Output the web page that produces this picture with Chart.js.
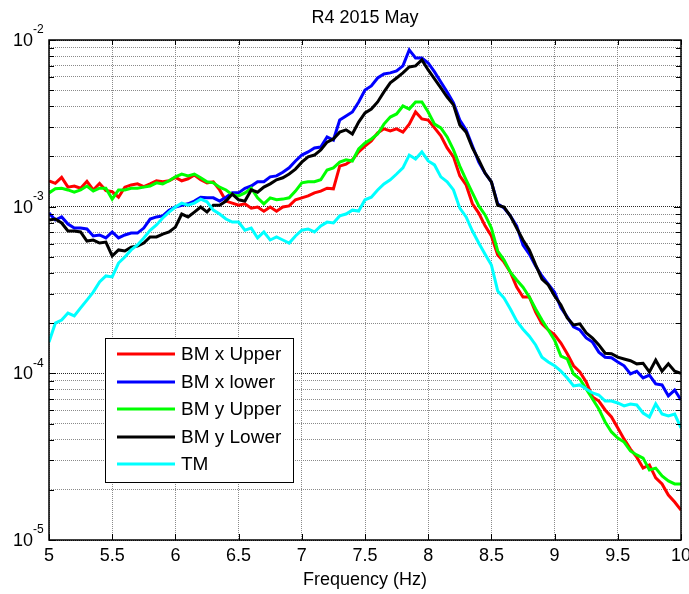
<!DOCTYPE html>
<html><head><meta charset="utf-8">
<script src="https://cdn.jsdelivr.net/npm/chart.js@4.4.1/dist/chart.umd.min.js"></script>
<style>html,body{margin:0;padding:0;background:#fff;}#wrap{width:689px;height:594px;position:relative;}</style>
</head><body><div id="wrap"><canvas id="c" width="689" height="594"></canvas></div>
<script>
const FONT = "'Liberation Sans', Arial, Helvetica, sans-serif";
const titleText = 'R4 2015 May';
const xLabel = 'Frequency (Hz)';
const xTicks = [5, 5.5, 6, 6.5, 7, 7.5, 8, 8.5, 9, 9.5, 10];
const yDecades = [1e-5, 1e-4, 1e-3, 1e-2];
const yDecadeExp = ['-5', '-4', '-3', '-2'];
const seriesNames = ['BM x Upper', 'BM x lower', 'BM y Upper', 'BM y Lower', 'TM'];
const seriesColors = ['#ff0000', '#0000ff', '#00ff00', '#000000', '#00ffff'];

const freq = [
 5.00,5.05,5.10,5.15,5.20,5.25,5.30,5.35,5.40,5.45,
 5.50,5.55,5.60,5.65,5.70,5.75,5.80,5.85,5.90,5.95,
 6.00,6.05,6.10,6.15,6.20,6.25,6.30,6.35,6.40,6.45,
 6.50,6.55,6.60,6.65,6.70,6.75,6.80,6.85,6.90,6.95,
 7.00,7.05,7.10,7.15,7.20,7.25,7.30,7.35,7.40,7.45,
 7.50,7.55,7.60,7.65,7.70,7.75,7.80,7.85,7.90,7.95,
 8.00,8.05,8.10,8.15,8.20,8.25,8.30,8.35,8.40,8.45,
 8.50,8.55,8.60,8.65,8.70,8.75,8.80,8.85,8.90,8.95,
 9.00,9.05,9.10,9.15,9.20,9.25,9.30,9.35,9.40,9.45,
 9.50,9.55,9.60,9.65,9.70,9.75,9.80,9.85,9.90,9.95,
 10.00];

const bmxUpper = [
 1.43e-3,1.38e-3,1.50e-3,1.31e-3,1.33e-3,1.29e-3,1.42e-3,1.26e-3,1.38e-3,1.25e-3,
 1.23e-3,1.14e-3,1.31e-3,1.35e-3,1.37e-3,1.32e-3,1.37e-3,1.43e-3,1.41e-3,1.43e-3,
 1.50e-3,1.43e-3,1.47e-3,1.55e-3,1.45e-3,1.39e-3,1.41e-3,1.26e-3,1.08e-3,1.05e-3,
 1.02e-3,1.04e-3,9.8e-4,9.95e-4,9.4e-4,9.95e-4,9.4e-4,9.95e-4,1.01e-3,1.10e-3,
 1.13e-3,1.16e-3,1.21e-3,1.24e-3,1.29e-3,1.28e-3,1.75e-3,1.80e-3,1.91e-3,2.13e-3,
 2.31e-3,2.48e-3,2.77e-3,2.93e-3,2.85e-3,2.93e-3,2.80e-3,3.13e-3,3.70e-3,3.36e-3,
 3.31e-3,2.97e-3,2.66e-3,2.25e-3,1.99e-3,1.53e-3,1.35e-3,1.04e-3,9.15e-4,7.67e-4,
 6.67e-4,5.13e-4,4.65e-4,4.05e-4,3.29e-4,2.87e-4,2.87e-4,2.33e-4,1.98e-4,1.82e-4,
 1.70e-4,1.52e-4,1.31e-4,1.11e-4,1.02e-4,8.88e-5,7.22e-5,6.82e-5,6.03e-5,5.47e-5,
 4.70e-5,4.03e-5,3.51e-5,3.14e-5,2.70e-5,2.82e-5,2.36e-5,2.17e-5,1.86e-5,1.69e-5,
 1.51e-5];

const bmxLower = [
 9.15e-4,8.32e-4,8.68e-4,7.87e-4,7.44e-4,7.44e-4,7.35e-4,6.67e-4,6.76e-4,6.49e-4,
 7.05e-4,6.49e-4,6.76e-4,6.94e-4,6.94e-4,7.44e-4,8.43e-4,8.68e-4,8.80e-4,9.53e-4,
 9.95e-4,1.02e-3,1.04e-3,1.08e-3,1.14e-3,1.13e-3,1.13e-3,1.08e-3,1.14e-3,1.21e-3,
 1.21e-3,1.29e-3,1.33e-3,1.41e-3,1.41e-3,1.51e-3,1.53e-3,1.61e-3,1.71e-3,1.88e-3,
 2.04e-3,2.13e-3,2.25e-3,2.28e-3,2.62e-3,2.51e-3,3.31e-3,3.50e-3,3.70e-3,4.25e-3,
 5.01e-3,5.30e-3,5.92e-3,6.26e-3,6.35e-3,6.52e-3,6.99e-3,8.72e-3,7.80e-3,7.80e-3,
 7.28e-3,6.44e-3,5.60e-3,4.88e-3,4.19e-3,3.31e-3,2.89e-3,2.31e-3,1.85e-3,1.59e-3,
 1.41e-3,1.04e-3,9.8e-4,8.80e-4,7.67e-4,5.89e-4,5.19e-4,4.40e-4,3.84e-4,3.43e-4,
 3.07e-4,2.47e-4,2.18e-4,1.90e-4,1.82e-4,1.63e-4,1.54e-4,1.34e-4,1.25e-4,1.24e-4,
 1.17e-4,1.11e-4,9.91e-5,1.03e-4,9.38e-5,9.77e-5,8.64e-5,8.52e-5,7.32e-5,7.94e-5,
 6.92e-5];

const bmyUpper = [
 1.21e-3,1.28e-3,1.29e-3,1.26e-3,1.22e-3,1.26e-3,1.33e-3,1.24e-3,1.29e-3,1.29e-3,
 1.11e-3,1.26e-3,1.26e-3,1.29e-3,1.29e-3,1.31e-3,1.33e-3,1.39e-3,1.37e-3,1.43e-3,
 1.51e-3,1.57e-3,1.53e-3,1.57e-3,1.49e-3,1.41e-3,1.39e-3,1.31e-3,1.26e-3,1.18e-3,
 1.16e-3,1.21e-3,1.29e-3,1.13e-3,1.04e-3,1.13e-3,1.10e-3,1.11e-3,1.13e-3,1.24e-3,
 1.39e-3,1.41e-3,1.41e-3,1.45e-3,1.66e-3,1.71e-3,1.85e-3,1.91e-3,1.88e-3,2.22e-3,
 2.41e-3,2.55e-3,2.73e-3,3.13e-3,3.45e-3,3.60e-3,4.02e-3,3.85e-3,4.25e-3,4.25e-3,
 3.70e-3,3.13e-3,2.97e-3,2.62e-3,2.19e-3,1.75e-3,1.45e-3,1.21e-3,1.01e-3,8.92e-4,
 7.44e-4,5.42e-4,4.78e-4,4.05e-4,3.63e-4,3.29e-4,2.87e-4,2.43e-4,2.09e-4,1.82e-4,
 1.58e-4,1.27e-4,1.22e-4,9.91e-5,9.24e-5,8.06e-5,7.02e-5,6.11e-5,5.11e-5,4.45e-5,
 4.09e-5,3.87e-5,3.42e-5,3.24e-5,3.10e-5,2.63e-5,2.70e-5,2.42e-5,2.26e-5,2.17e-5,
 2.17e-5];

const bmyLower = [
 8.32e-4,8.43e-4,7.98e-4,7.14e-4,7.14e-4,7.05e-4,6.22e-4,6.30e-4,6.05e-4,6.13e-4,
 5.06e-4,5.50e-4,5.42e-4,5.72e-4,5.80e-4,6.05e-4,6.58e-4,6.58e-4,6.85e-4,7.05e-4,
 7.54e-4,9.03e-4,8.68e-4,9.28e-4,9.95e-4,9.28e-4,1.02e-3,1.02e-3,1.08e-3,1.19e-3,
 1.10e-3,1.08e-3,1.26e-3,1.22e-3,1.31e-3,1.37e-3,1.45e-3,1.49e-3,1.57e-3,1.68e-3,
 1.85e-3,1.99e-3,2.04e-3,2.19e-3,2.44e-3,2.55e-3,2.80e-3,2.89e-3,2.73e-3,3.22e-3,
 3.65e-3,3.85e-3,4.25e-3,4.88e-3,5.53e-3,5.92e-3,6.35e-3,6.89e-3,6.99e-3,7.59e-3,
 6.61e-3,5.84e-3,5.16e-3,4.55e-3,4.08e-3,3.09e-3,2.80e-3,2.25e-3,1.91e-3,1.59e-3,
 1.41e-3,1.02e-3,9.95e-4,8.80e-4,7.44e-4,6.31e-4,5.50e-4,4.47e-4,3.68e-4,3.39e-4,
 2.91e-4,2.57e-4,2.15e-4,1.95e-4,1.98e-4,1.75e-4,1.63e-4,1.48e-4,1.32e-4,1.31e-4,
 1.25e-4,1.22e-4,1.19e-4,1.14e-4,1.15e-4,1.02e-4,1.20e-4,1.03e-4,1.14e-4,1.03e-4,
 1.00e-4];

const tm = [
 1.54e-4,2.00e-4,2.09e-4,2.30e-4,2.21e-4,2.47e-4,2.75e-4,3.07e-4,3.53e-4,3.84e-4,
 3.79e-4,4.59e-4,4.99e-4,5.50e-4,5.89e-4,6.49e-4,7.22e-4,7.76e-4,8.55e-4,9.28e-4,
 9.95e-4,1.05e-3,1.02e-3,1.05e-3,1.11e-3,1.07e-3,9.53e-4,9.03e-4,8.43e-4,8.08e-4,
 8.08e-4,7.22e-4,7.44e-4,6.49e-4,7.05e-4,6.31e-4,6.58e-4,6.31e-4,6.05e-4,6.67e-4,
 7.22e-4,7.35e-4,7.05e-4,7.67e-4,8.08e-4,7.98e-4,8.80e-4,9.03e-4,9.53e-4,9.41e-4,
 1.10e-3,1.14e-3,1.26e-3,1.37e-3,1.45e-3,1.57e-3,1.71e-3,2.04e-3,1.93e-3,2.13e-3,
 1.88e-3,1.78e-3,1.51e-3,1.41e-3,1.26e-3,9.8e-4,8.68e-4,7.14e-4,6.05e-4,5.19e-4,
 4.47e-4,3.12e-4,2.83e-4,2.43e-4,2.06e-4,1.84e-4,1.67e-4,1.48e-4,1.25e-4,1.17e-4,
 1.11e-4,1.03e-4,9.38e-5,8.40e-5,8.52e-5,8.06e-5,7.63e-5,7.41e-5,6.82e-5,6.82e-5,
 6.64e-5,6.37e-5,6.55e-5,6.46e-5,5.78e-5,5.47e-5,6.55e-5,5.70e-5,5.55e-5,5.70e-5,
 4.70e-5];

const seriesValues = [bmxUpper, bmxLower, bmyUpper, bmyLower, tm];

const datasets = seriesValues.map((vals, i) => ({
  label: seriesNames[i],
  data: freq.map((f, k) => ({x: f, y: vals[k]})),
  borderColor: seriesColors[i],
  backgroundColor: seriesColors[i],
  borderWidth: 3,
  pointRadius: 0,
  tension: 0,
  fill: false,
  order: 5 - i
}));

function isDecade(v) {
  const l = Math.log10(v);
  return Math.abs(l - Math.round(l)) < 1e-6;
}

const matlabDecor = {
  id: 'matlabDecor',
  afterDraw(chart) {
    const {ctx, chartArea: a, scales: {x, y}} = chart;
    ctx.save();
    ctx.strokeStyle = '#000';
    ctx.lineWidth = 1;
    const seg = (x1, y1, x2, y2) => { ctx.beginPath(); ctx.moveTo(x1, y1); ctx.lineTo(x2, y2); ctx.stroke(); };
    xTicks.forEach(v => {
      const px = Math.round(x.getPixelForValue(v)) + 0.5;
      seg(px, a.bottom, px, a.bottom - 6);
      seg(px, a.top, px, a.top + 5);
    });
    y.ticks.forEach(t => {
      const py = Math.round(y.getPixelForValue(t.value)) + 0.5;
      const len = isDecade(t.value) ? 7 : 5;
      seg(a.left, py, a.left + len, py);
      seg(a.right, py, a.right - len, py);
    });
    ctx.lineWidth = 1.5;
    ctx.strokeRect(a.left, a.top, a.right - a.left, a.bottom - a.top);
    ctx.fillStyle = '#000';
    yDecades.forEach((v, i) => {
      const py = y.getPixelForValue(v);
      ctx.font = '18px ' + FONT;
      ctx.textAlign = 'right';
      ctx.textBaseline = 'middle';
      ctx.fillText('10', 33, py + 1);
      ctx.font = '12px ' + FONT;
      ctx.textAlign = 'left';
      ctx.fillText(yDecadeExp[i], 33, py - 10);
    });
    ctx.font = '18px ' + FONT;
    ctx.textAlign = 'center';
    ctx.textBaseline = 'middle';
    ctx.fillText(titleText, (a.left + a.right) / 2, 18);
    const lx = 105, ly = 338, lw = 188, lh = 144;
    ctx.fillStyle = '#fff';
    ctx.fillRect(lx, ly, lw, lh);
    ctx.lineWidth = 1;
    ctx.strokeStyle = '#000';
    ctx.strokeRect(lx + 0.5, ly + 0.5, lw, lh);
    const rows = [354, 382, 409, 437, 464];
    chart.data.datasets.forEach((ds, i) => {
      const ry = rows[i];
      ctx.strokeStyle = ds.borderColor;
      ctx.lineWidth = 3;
      seg(117, ry, 175, ry);
      ctx.fillStyle = '#000';
      ctx.font = '19px ' + FONT;
      ctx.textAlign = 'left';
      ctx.textBaseline = 'middle';
      ctx.fillText(ds.label, 181, ry + 1);
    });
    ctx.restore();
  }
};

new Chart(document.getElementById('c'), {
  type: 'line',
  data: {datasets},
  options: {
    responsive: false,
    animation: false,
    devicePixelRatio: 1,
    layout: {padding: {left: 0, right: 8, top: 40, bottom: 0}},
    plugins: {legend: {display: false}, title: {display: false}, tooltip: {enabled: false}},
    scales: {
      x: {
        type: 'linear', min: 5, max: 10,
        afterBuildTicks: s => { s.ticks = xTicks.map(v => ({value: v})); },
        afterFit: s => { s.height = 54; s.paddingLeft = 0; s.paddingRight = 0; },
        ticks: {color: '#000', font: {family: FONT, size: 18}, padding: 5, maxRotation: 0, autoSkip: false,
                callback: v => String(v)},
        grid: {color: '#8a8a8a', lineWidth: 1, drawTicks: false},
        border: {display: false, dash: [1, 1]},
        title: {display: true, text: xLabel, color: '#000', font: {family: FONT, size: 18}, padding: {top: 0, bottom: 3}}
      },
      y: {
        type: 'logarithmic', min: 1e-5, max: 1e-2,
        afterBuildTicks: s => {
          const t = [];
          [1e-5, 1e-4, 1e-3].forEach(d => { for (let m = 1; m <= 9; m++) t.push({value: d * m}); });
          t.push({value: 1e-2});
          s.ticks = t;
        },
        afterFit: s => { s.width = 49; },
        ticks: {display: false},
        grid: {
          color: c => (c.tick && isDecade(c.tick.value)) ? '#2a2a2a' : '#8a8a8a',
          lineWidth: 1, drawTicks: false
        },
        border: {display: false, dash: [1, 1]}
      }
    }
  },
  plugins: [matlabDecor]
});
</script></body></html>
